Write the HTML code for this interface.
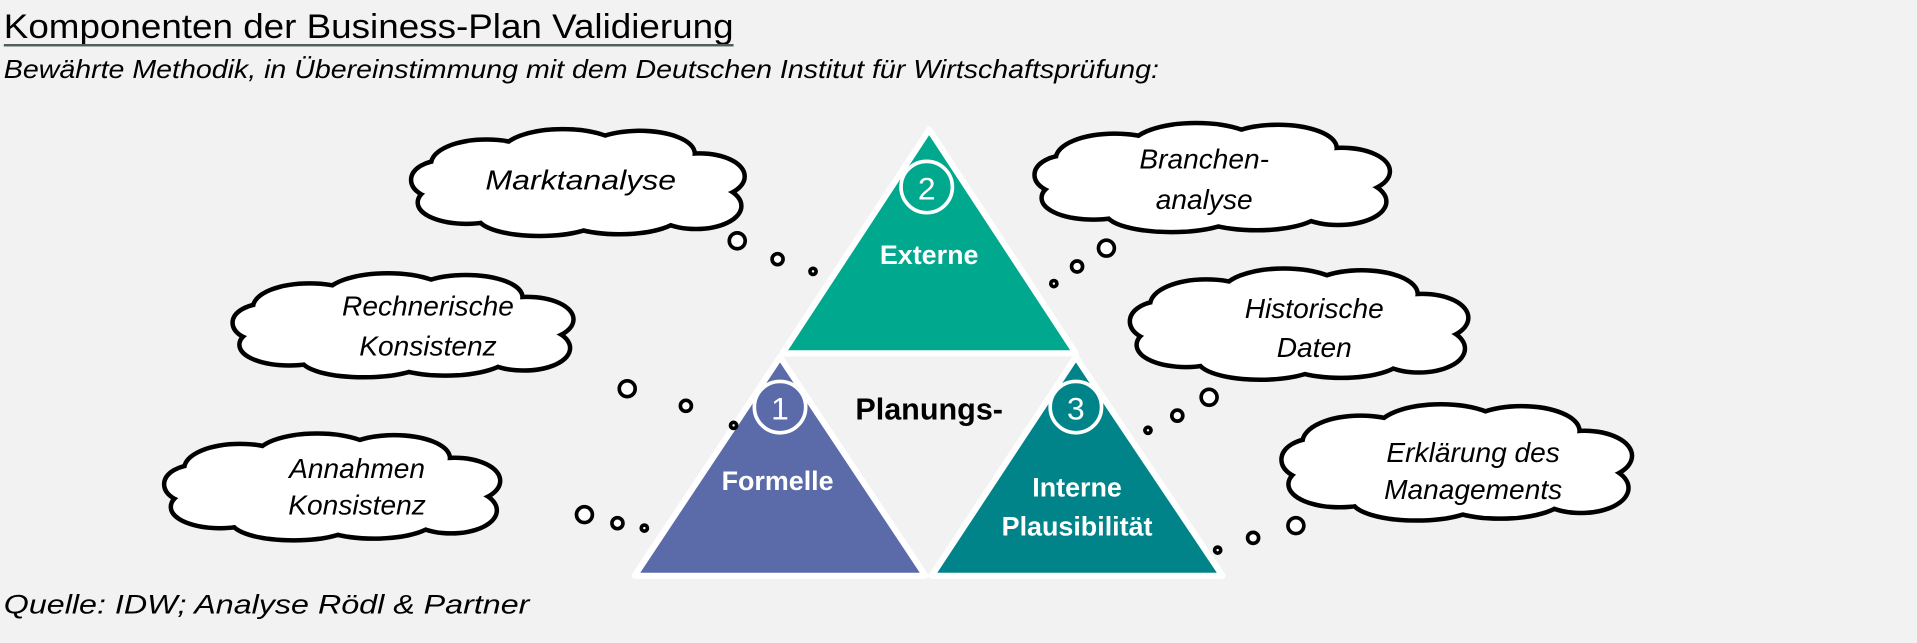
<!DOCTYPE html>
<html><head><meta charset="utf-8"><style>
html,body{margin:0;padding:0;background:#f2f2f2;}
svg{display:block;}
text{font-family:"Liberation Sans",sans-serif;}
#cb ellipse{vector-effect:non-scaling-stroke;}
</style></head><body>
<svg width="1917" height="643" viewBox="0 0 1568 526" xmlns="http://www.w3.org/2000/svg">
<defs>
<g id="cb">
<ellipse cx="22" cy="20" rx="16" ry="13"/><ellipse cx="45" cy="14" rx="18" ry="13"/><ellipse cx="68" cy="14" rx="16" ry="12"/><ellipse cx="86" cy="27" rx="13" ry="12"/><ellipse cx="85" cy="44" rx="13" ry="12"/><ellipse cx="62" cy="48" rx="18" ry="11"/><ellipse cx="38" cy="50" rx="18" ry="10"/><ellipse cx="16" cy="42" rx="14" ry="11"/><ellipse cx="9" cy="29" rx="9" ry="10"/><ellipse cx="50" cy="31" rx="40" ry="20"/>
</g>
<g id="cloud">
<use href="#cb" stroke="#000" stroke-width="9" fill="#000"/>
<use href="#cb" fill="#fff" stroke="none"/>
</g>
</defs>
<rect width="1568" height="526" fill="#f2f2f2"/>
<text x="3" y="31" font-size="28" fill="#000" textLength="597" lengthAdjust="spacingAndGlyphs">Komponenten der Business-Plan Validierung</text>
<rect x="3" y="36" width="597" height="2" fill="#4f5f58"/>
<text x="3" y="64" font-size="21" font-style="italic" fill="#000" textLength="945" lengthAdjust="spacingAndGlyphs">Bewährte Methodik, in Übereinstimmung mit dem Deutschen Institut für Wirtschaftsprüfung:</text>

<polygon points="760,106 640,289 880,289" fill="#00a88e" stroke="#fff" stroke-width="5" stroke-linejoin="round"/>
<polygon points="638,292 519,471 757,471" fill="#5b6aa8" stroke="#fff" stroke-width="5" stroke-linejoin="round"/>
<polygon points="880,292 762,471 1000,471" fill="#00848a" stroke="#fff" stroke-width="5" stroke-linejoin="round"/>
<circle cx="758" cy="153" r="21" fill="#00a88e" stroke="#fff" stroke-width="3"/>
<circle cx="638" cy="333" r="21" fill="#5b6aa8" stroke="#fff" stroke-width="3"/>
<circle cx="880" cy="333" r="21" fill="#00848a" stroke="#fff" stroke-width="3"/>
<g font-size="26" fill="#fff" text-anchor="middle">
<text x="758" y="163">2</text><text x="638" y="343">1</text><text x="880" y="343">3</text>
</g>
<g font-weight="bold" font-size="22" fill="#fff" text-anchor="middle">
<text x="760" y="216">Externe</text>
<text x="636" y="401">Formelle</text>
<text x="881" y="406">Interne</text>
<text x="881" y="438">Plausibilität</text>
</g>
<text x="760" y="343" font-weight="bold" font-size="25" fill="#000" text-anchor="middle">Planungs-</text>

<use href="#cloud" transform="translate(338,106) scale(2.72,1.42)"/>
<use href="#cloud" transform="translate(848,101) scale(2.9,1.45)"/>
<use href="#cloud" transform="translate(192,224) scale(2.78,1.38)"/>
<use href="#cloud" transform="translate(926,220) scale(2.76,1.48)"/>
<use href="#cloud" transform="translate(136,355) scale(2.74,1.42)"/>
<use href="#cloud" transform="translate(1050,331) scale(2.86,1.55)"/>
<g font-size="23" font-style="italic" fill="#000" text-anchor="middle">
<text x="475" y="155" textLength="156" lengthAdjust="spacingAndGlyphs">Marktanalyse</text>
<text x="985" y="138">Branchen-</text><text x="985" y="171">analyse</text>
<text x="350" y="258">Rechnerische</text><text x="350" y="291">Konsistenz</text>
<text x="1075" y="260">Historische</text><text x="1075" y="292">Daten</text>
<text x="292" y="391">Annahmen</text><text x="292" y="421">Konsistenz</text>
<text x="1205" y="378">Erklärung des</text><text x="1205" y="408">Managements</text>
</g>
<g fill="#fff" stroke="#000" stroke-width="3">
<circle cx="603" cy="197" r="6.5"/><circle cx="636" cy="212" r="4.5"/><circle cx="665" cy="222" r="2.5"/>
<circle cx="905" cy="203" r="6.5"/><circle cx="881" cy="218" r="4.5"/><circle cx="862" cy="232" r="2.5"/>
<circle cx="513" cy="318" r="6.5"/><circle cx="561" cy="332" r="4.5"/><circle cx="600" cy="348" r="2.5"/>
<circle cx="989" cy="325" r="6.5"/><circle cx="963" cy="340" r="4.5"/><circle cx="939" cy="352" r="2.5"/>
<circle cx="478" cy="421" r="6.5"/><circle cx="505" cy="428" r="4.5"/><circle cx="527" cy="432" r="2.5"/>
<circle cx="1060" cy="430" r="6.5"/><circle cx="1025" cy="440" r="4.5"/><circle cx="996" cy="450" r="2.5"/>
</g>
<text x="3" y="502" font-size="22" font-style="italic" fill="#000" textLength="430" lengthAdjust="spacingAndGlyphs">Quelle: IDW; Analyse Rödl &amp; Partner</text>
</svg>
</body></html>
